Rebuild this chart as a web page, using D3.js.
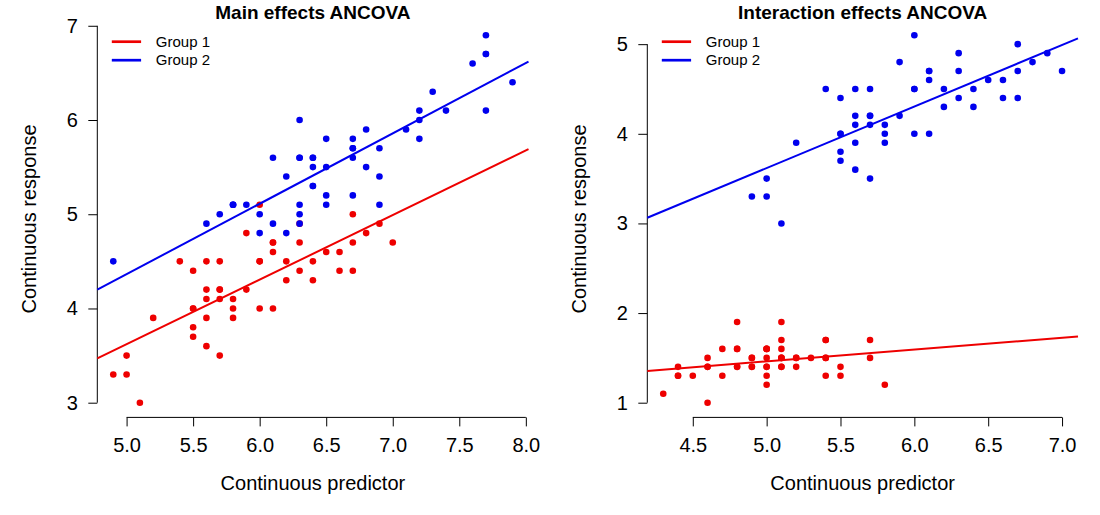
<!DOCTYPE html>
<html>
<head>
<meta charset="utf-8">
<script src="https://cdn.jsdelivr.net/npm/d3@7"></script>
<style>
  html, body { margin: 0; padding: 0; background: #fff; }
  svg { display: block; font-family: "Liberation Sans", Arial, sans-serif; }
  .tick text { font-size: 20px; fill: #000; }
  .tick line, .axis-line { stroke: #000; stroke-width: 1; }
</style>
</head>
<body>
<svg id="chart" width="1100" height="515"></svg>
<script>
// iris data (Sepal.Length -> predictor, Petal.Length -> response)
const setosaX = [5.1,4.9,4.7,4.6,5.0,5.4,4.6,5.0,4.4,4.9,5.4,4.8,4.8,4.3,5.8,5.7,5.4,5.1,5.7,5.1,5.4,5.1,4.6,5.1,4.8,5.0,5.0,5.2,5.2,4.7,4.8,5.4,5.2,5.5,4.9,5.0,5.5,4.9,4.4,5.1,5.0,4.5,4.4,5.0,5.1,4.8,5.1,4.6,5.3,5.0];
const setosaY = [1.4,1.4,1.3,1.5,1.4,1.7,1.4,1.5,1.4,1.5,1.5,1.6,1.4,1.1,1.2,1.5,1.3,1.4,1.7,1.5,1.7,1.5,1.0,1.7,1.9,1.6,1.6,1.5,1.4,1.6,1.6,1.5,1.5,1.4,1.5,1.2,1.3,1.4,1.3,1.5,1.3,1.3,1.3,1.6,1.9,1.4,1.6,1.4,1.5,1.4];
const versicolorX = [7.0,6.4,6.9,5.5,6.5,5.7,6.3,4.9,6.6,5.2,5.0,5.9,6.0,6.1,5.6,6.7,5.6,5.8,6.2,5.6,5.9,6.1,6.3,6.1,6.4,6.6,6.8,6.7,6.0,5.7,5.5,5.5,5.8,6.0,5.4,6.0,6.7,6.3,5.6,5.5,5.5,6.1,5.8,5.0,5.6,5.7,5.7,6.2,5.1,5.7];
const versicolorY = [4.7,4.5,4.9,4.0,4.6,4.5,4.7,3.3,4.6,3.9,3.5,4.2,4.0,4.7,3.6,4.4,4.5,4.1,4.5,3.9,4.8,4.0,4.9,4.7,4.3,4.4,4.8,5.0,4.5,3.5,3.8,3.7,3.9,5.1,4.5,4.5,4.7,4.4,4.1,4.0,4.4,4.6,4.0,3.3,4.2,4.2,4.2,4.3,3.0,4.1];
const virginicaX = [6.3,5.8,7.1,6.3,6.5,7.6,4.9,7.3,6.7,7.2,6.5,6.4,6.8,5.7,5.8,6.4,6.5,7.7,7.7,6.0,6.9,5.6,7.7,6.3,6.7,7.2,6.2,6.1,6.4,7.2,7.4,7.9,6.4,6.3,6.1,7.7,6.3,6.4,6.0,6.9,6.7,6.9,5.8,6.8,6.7,6.7,6.3,6.5,6.2,5.9];
const virginicaY = [6.0,5.1,5.9,5.6,5.8,6.6,4.5,6.3,5.8,6.1,5.1,5.3,5.5,5.0,5.1,5.3,5.5,6.7,6.9,5.0,5.7,4.9,6.7,4.9,5.7,6.0,4.8,4.9,5.6,5.8,6.1,6.4,5.6,5.1,5.6,6.1,5.6,5.5,4.8,5.4,5.6,5.1,5.1,5.9,5.7,5.2,5.0,5.2,5.4,5.1];

// fitted line endpoints (x at plot edges, y)
const mainLineX = [4.78, 8.02];
const mainLine1Y = [3.47, 5.69];
const mainLine2Y = [4.20, 6.62];
const interLineX = [4.192, 7.108];
const interLine1Y = [1.355, 1.738];
const interLine2Y = [3.063, 5.065];

const mainXTicks = [5.0, 5.5, 6.0, 6.5, 7.0, 7.5, 8.0];
const mainYTicks = [3, 4, 5, 6, 7];
const interXTicks = [4.5, 5.0, 5.5, 6.0, 6.5, 7.0];
const interYTicks = [1, 2, 3, 4, 5];
const groupLabels = ['Group 1', 'Group 2'];

const RED = '#ee0000';
const BLUE = '#0000ee';

const svg = d3.select('#chart');

const zip = (xs, ys) => xs.map((x, i) => ({ x, y: ys[i] }));

function panel(cfg) {
  const { left, right, title, xDomain, yDomain, xTicks, yTicks, groups, lines } = cfg;
  const top = 20.5, bottom = 417.4;
  const x = d3.scaleLinear().domain(xDomain).range([left, right]);
  const y = d3.scaleLinear().domain(yDomain).range([bottom, top]);
  const g = svg.append('g');

  // axes, R style: line only spans first..last tick
  const xAxis = g.append('g')
    .attr('transform', `translate(0,${bottom})`)
    .call(d3.axisBottom(x).tickValues(xTicks).tickFormat(d3.format('.1f'))
      .tickSize(9).tickPadding(11.4));
  xAxis.select('.domain').remove();
  xAxis.append('line').attr('class', 'axis-line')
    .attr('x1', x(xTicks[0])).attr('x2', x(xTicks[xTicks.length - 1]));

  const yAxis = g.append('g')
    .attr('transform', `translate(${left},0)`)
    .call(d3.axisLeft(y).tickValues(yTicks).tickFormat(d3.format('d'))
      .tickSize(9).tickPadding(10.5));
  yAxis.select('.domain').remove();
  yAxis.append('line').attr('class', 'axis-line')
    .attr('y1', y(yTicks[0])).attr('y2', y(yTicks[yTicks.length - 1]));
  g.selectAll('.tick text').attr('font-family', null).attr('font-size', null);

  // points
  groups.forEach(grp => {
    g.append('g').selectAll('circle')
      .data(zip(grp.xs, grp.ys))
      .join('circle')
      .attr('cx', d => x(d.x))
      .attr('cy', d => y(d.y))
      .attr('r', 3.3)
      .attr('fill', grp.color);
  });

  // fitted lines
  lines.forEach(ln => {
    g.append('path')
      .datum(zip(ln.xs, ln.ys))
      .attr('d', d3.line().x(d => x(d.x)).y(d => y(d.y)))
      .attr('fill', 'none')
      .attr('stroke', ln.color)
      .attr('stroke-width', 2);
  });

  // legend
  const lg = g.append('g').attr('transform', `translate(${left + 14.5},0)`);
  groups.forEach((grp, i) => {
    const ly = 41.7 + i * 18.5;
    lg.append('line')
      .attr('x1', 0).attr('x2', 29.3).attr('y1', ly).attr('y2', ly)
      .attr('stroke', grp.color).attr('stroke-width', 2.7);
    lg.append('text')
      .attr('x', 44).attr('y', ly).attr('dy', '0.35em')
      .attr('font-size', 15).text(groupLabels[i]);
  });

  const cx = (left + right) / 2;
  g.append('text')
    .attr('x', cx).attr('y', 18.5)
    .attr('text-anchor', 'middle')
    .attr('font-weight', 'bold').attr('font-size', 19)
    .text(title);
  g.append('text')
    .attr('x', cx).attr('y', 490)
    .attr('text-anchor', 'middle').attr('font-size', 20)
    .text('Continuous predictor');
  g.append('text')
    .attr('transform', `translate(${left - 61.5},${(top + bottom) / 2}) rotate(-90)`)
    .attr('text-anchor', 'middle').attr('font-size', 20)
    .text('Continuous response');
}

panel({
  left: 97.3, right: 528.5,
  title: 'Main effects ANCOVA',
  xDomain: [4.78, 8.02], yDomain: [2.844, 7.056],
  xTicks: mainXTicks, yTicks: mainYTicks,
  groups: [
    { xs: versicolorX, ys: versicolorY, color: RED },
    { xs: virginicaX, ys: virginicaY, color: BLUE }
  ],
  lines: [
    { xs: mainLineX, ys: mainLine1Y, color: RED },
    { xs: mainLineX, ys: mainLine2Y, color: BLUE }
  ]
});

panel({
  left: 647.3, right: 1078,
  title: 'Interaction effects ANCOVA',
  xDomain: [4.192, 7.108], yDomain: [0.836, 5.264],
  xTicks: interXTicks, yTicks: interYTicks,
  groups: [
    { xs: setosaX, ys: setosaY, color: RED },
    { xs: versicolorX, ys: versicolorY, color: BLUE }
  ],
  lines: [
    { xs: interLineX, ys: interLine1Y, color: RED },
    { xs: interLineX, ys: interLine2Y, color: BLUE }
  ]
});
</script>
</body>
</html>
